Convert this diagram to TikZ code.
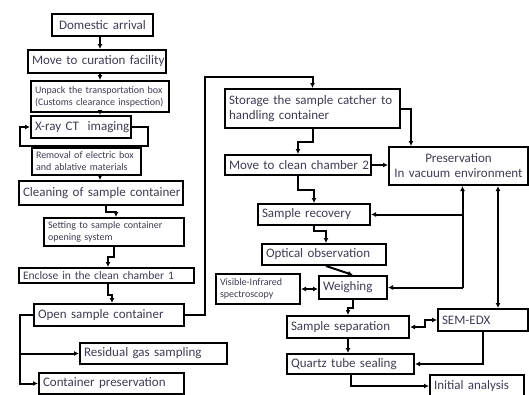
\documentclass[tikz,border=0pt]{standalone}
\usepackage{fontspec}
\setmainfont{Carlito}
\usetikzlibrary{arrows.meta,calc}
\definecolor{txt}{RGB}{62,60,82}
\begin{document}
\begin{tikzpicture}[x=1pt,y=-1pt,
 box/.style={draw, line width=2pt, anchor=north west, inner xsep=4pt, inner ysep=0pt, text=txt, align=left},
 big/.style={font=\fontsize{13}{15}\selectfont},
 small/.style={font=\fontsize{10}{12}\selectfont},
 arr/.style={line width=2pt, -{Latex[length=5pt,width=5pt]}},
 arrtwo/.style={line width=2pt, {Latex[length=5pt,width=5pt]}-{Latex[length=5pt,width=5pt]}},
 ln/.style={line width=2pt}]
\useasboundingbox (0,0) rectangle (529,394);
% left column
\node[box,big,text width=93pt,minimum height=22pt,align=center] (dom) at (51,13) {\mbox{Domestic arrival}};
\node[box,big,text width=130pt,minimum height=23pt] (move) at (27,49) {\mbox{Move to curation facility}};
\node[box,small,text width=130pt,minimum height=31pt] (unpack) at (30,80) {\mbox{Unpack the transportation box}\\\mbox{(Customs clearance inspection)}};
\node[box,big,text width=92pt,minimum height=22pt] (xray) at (30,115) {\mbox{X-ray CT\ \ imaging}};
\node[box,small,text width=101pt,minimum height=27pt] (removal) at (31,147) {\mbox{Removal of electric box}\\\mbox{and ablative materials}};
\node[box,big,text width=156pt,minimum height=24pt] (clean) at (18,180) {\mbox{Cleaning of sample container}};
\node[box,small,text width=132pt,minimum height=28pt] (setting) at (43,217) {\mbox{Setting to sample container}\\\mbox{opening system}};
\node[box,font=\fontsize{11.5}{13}\selectfont,text width=167pt,minimum height=15pt] (enclose) at (18,267) {\mbox{Enclose in the clean chamber 1}};
\node[box,big,text width=142pt,minimum height=22pt] (open) at (33,303) {\mbox{Open sample container}};
\node[box,big,text width=139pt,minimum height=21pt] (resid) at (79,342) {\mbox{Residual gas sampling}};
\node[box,big,text width=137pt,minimum height=21pt] (cont) at (38,372) {\mbox{Container preservation}};
% right part
\node[box,big,text width=167pt,minimum height=39pt] (storage) at (224,88) {\mbox{Storage the sample catcher to}\\\mbox{handling container}};
\node[box,big,text width=131pt,minimum height=38pt,align=center] (presv) at (388,146) {\mbox{Preservation}\\\mbox{In vacuum environment}};
\node[box,big,text width=138pt,minimum height=20pt] (move2) at (224,154) {\mbox{Move to clean chamber 2}};
\node[box,big,text width=104pt,minimum height=21pt] (recov) at (257,203) {\mbox{Sample recovery}};
\node[box,big,text width=116pt,minimum height=21pt] (optical) at (261,243) {\mbox{Optical observation}};
\node[box,small,text width=76pt,minimum height=30pt] (vis) at (215,273) {\mbox{Visible-Infrared}\\\mbox{spectroscopy}};
\node[box,big,text width=60pt,minimum height=23pt] (weigh) at (318,275) {\mbox{Weighing}};
\node[box,big,text width=114pt,minimum height=22pt] (sep) at (286,315) {\mbox{Sample separation}};
\node[box,big,text width=82pt,minimum height=22pt] (sem) at (437,308) {\mbox{SEM-EDX}};
\node[box,big,text width=119pt,minimum height=20pt] (quartz) at (286,353) {\mbox{Quartz tube sealing}};
\node[box,big,text width=86pt,minimum height=22pt] (init) at (429,374) {\mbox{Initial analysis}};
% left connectors
\draw[arr] (dom.south -| unpack.north) -- (move.north -| unpack.north);
\draw[arr] (move.south -| unpack.north) -- (unpack.north);
\draw[arr] (unpack.south) -- (unpack.south |- xray.north);
\draw[arr] (xray.east) -- ++(16,0) -- ++(0,19) -- ++(-128,0) -- ++(0,-19) -- (xray.west);
\draw[arr] (removal.south -| unpack.north) -- (clean.north -| unpack.north);
\draw[arr] ([xshift=5pt]clean.south) -- ++(0,6) -| ([xshift=2pt]setting.north);
\draw[arr] (setting.south) -- ++(0,10) -| ([xshift=1.5pt]enclose.north);
\draw[arr] ([xshift=1.5pt]enclose.south) -- ++(0,11) -| ([xshift=3pt]open.north);
\draw[arr] (open.west) -- ++(-13,0) |- (cont.west);
\draw[arr] ([xshift=-13pt]open.west) |- (resid.west);
\draw[arr] (open.east) -- ++(20,0) -- ++(0,-238) -| (storage.north);
% right connectors
\coordinate (pv) at ([xshift=4pt]presv.south);
\coordinate (ps) at ([xshift=39.5pt]presv.south);
\draw[arr] (storage.east) -| ([xshift=-47.5pt]presv.north);
\draw[arr] (storage.south) -- ++(0,13) -| (move2.north);
\draw[arr] (move2.east) -- (move2.east -| presv.west);
\draw[arr] (move2.south) -- ++(0,14) -| (recov.north);
\draw[arr] (pv |- weigh.east) -- (pv);
\draw[arr] (pv |- recov.east) -- (recov.east);
\draw[arr] (pv |- weigh.east) -- (weigh.east);
\draw[arrtwo] (ps) -- (ps |- sem.north);
\draw[arr] (recov.south) -- ++(0,5) -| ([xshift=2pt]optical.north);
\draw[arr] ([xshift=2pt]optical.south) -- (weigh.north);
\draw[arrtwo] (vis.east) -- (vis.east -| weigh.west);
\draw[arr] (weigh.south) -- ++(0,8) -| (sep.north);
\draw[arrtwo] (sep.east) -- ++(15,0) |- (sem.west);
\draw[arr] (sep.south) -- (sep.south |- quartz.north);
\draw[arr] (sem.south) |- (quartz.east);
\draw[arr] (quartz.south) |- (init.west);
\end{tikzpicture}
\end{document}
